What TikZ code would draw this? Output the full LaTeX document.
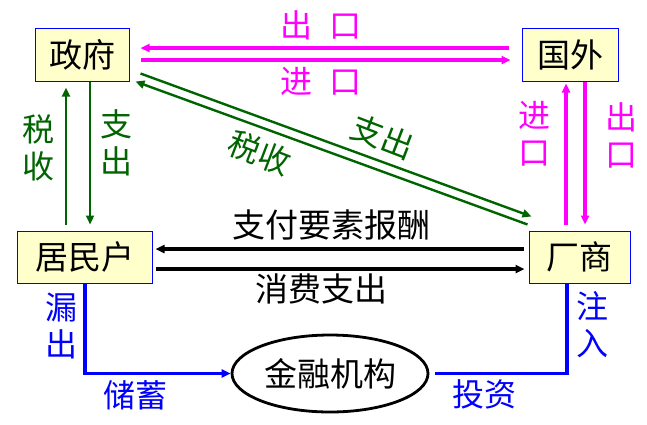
\documentclass[tikz,border=0pt]{standalone}
\usepackage{fontspec}
\newfontfamily\cjk{Noto Sans CJK SC}
\usetikzlibrary{arrows.meta,calc,shapes.geometric}
\definecolor{boxfill}{HTML}{FFFFCC}
\definecolor{dgreen}{HTML}{006400}
\definecolor{pinkc}{HTML}{FF00FF}
\definecolor{blueln}{HTML}{0000FF}
\begin{document}
\begin{tikzpicture}[x=1pt,y=-1pt,
  box/.style={draw=blueln, fill=boxfill, line width=1pt, inner sep=0pt, font=\cjk\fontsize{33}{33}\selectfont},
  lbl/.style={inner sep=0pt, font=\cjk\fontsize{32}{37}\selectfont, align=center},
  blbl/.style={inner sep=0pt, font=\cjk\fontsize{33}{33}\selectfont},
  tip/.style={-{Triangle[length=9pt,width=8pt]}},
  pinkline/.style={draw=pinkc, line width=3.4pt},
  greenline/.style={draw=dgreen, line width=2.4pt},
  blackline/.style={draw=black, line width=3.4pt},
  blueline/.style={draw=blueln, line width=3.8pt},
]
\useasboundingbox (0,0) rectangle (647,424);
% boxes
\node[box, minimum width=94pt, minimum height=53pt] (gov) at (82,54.5) {政府};
\node[box, minimum width=96pt, minimum height=53pt] (abroad) at (570,54.5) {国外};
\node[box, minimum width=135pt, minimum height=52pt] (res) at (84.5,257) {居民户};
\node[box, minimum width=101pt, minimum height=52pt] (firm) at (579.5,257) {厂商};
\node[draw=black, line width=2.8pt, ellipse, minimum width=196pt, minimum height=77pt, inner sep=0pt,
      font=\cjk\fontsize{33}{33}\selectfont] (fin) at (330,373.5) {金融机构};

% pink horizontal
\draw[pinkline, tip] ($(abroad.west)+(-13,-6.5)$) -- ($(gov.east)+(11,-6.5)$);
\draw[pinkline, tip] ($(gov.east)+(11,5.5)$) -- ($(abroad.west)+(-11,5.5)$);
\node[lbl, text=pinkc] (lout) at (321,25) {出\hspace{18pt}口};
\node[lbl, text=pinkc] (lin) at (321,81) {进\hspace{18pt}口};

% pink vertical
\draw[pinkline, tip] ($(firm.north)+(-13.5,-6)$) -- ($(abroad.south)+(-4,2)$);
\draw[pinkline, tip] ($(abroad.south)+(15,0)$) -- ($(firm.north)+(5.5,-6)$);
\node[lbl, text=pinkc] (lin2) at (534,134) {进\\口};
\node[lbl, text=pinkc] (lout2) at (621,135) {出\\口};

% green vertical
\draw[greenline, tip] ($(res.north)+(-18.5,-6)$) -- ($(gov.south)+(-16,6)$);
\draw[greenline, tip] ($(gov.south)+(8,0)$) -- ($(res.north)+(5.5,-6)$);
\node[lbl, text=dgreen] (ltax) at (38,148) {税\\收};
\node[lbl, text=dgreen] (lexp) at (116,143) {支\\出};

% green diagonal
\draw[greenline, tip] ($(gov.south east)+(11,-8)$) -- ($(firm.north west)+(3,-14)$);
\draw[greenline, tip] ($(firm.north west)+(-1,-6)$) -- ($(gov.south east)+(6,0)$);
\node[lbl, text=dgreen, rotate=-21] (ltax2) at (260,153) {税收};
\node[lbl, text=dgreen, rotate=-21] (lexp2) at (383,137) {支出};

% black horizontal
\draw[blackline, tip] ($(firm.west)+(-5,-8)$) -- ($(res.east)+(3,-8)$);
\draw[blackline, tip] ($(res.east)+(3,12)$) -- ($(firm.west)+(-4,12)$);
\node[blbl] (lpay) at (331,225) {支付要素报酬};
\node[blbl] (lcons) at (321,289) {消费支出};

% blue
\draw[blueline, tip] ($(res.south)+(0.5,0)$) |- (fin.west);
\draw[blueline] ($(fin.east)+(6,0)$) -| ($(firm.south)+(-12.5,0)$);
\node[lbl, text=blueln] (lleak) at (61,326) {漏\\出};
\node[lbl, text=blueln] (linj) at (592,325) {注\\入};
\node[lbl, text=blueln] (lsav) at (135,395) {储蓄};
\node[lbl, text=blueln] (linv) at (484,394) {投资};
\end{tikzpicture}
\end{document}
